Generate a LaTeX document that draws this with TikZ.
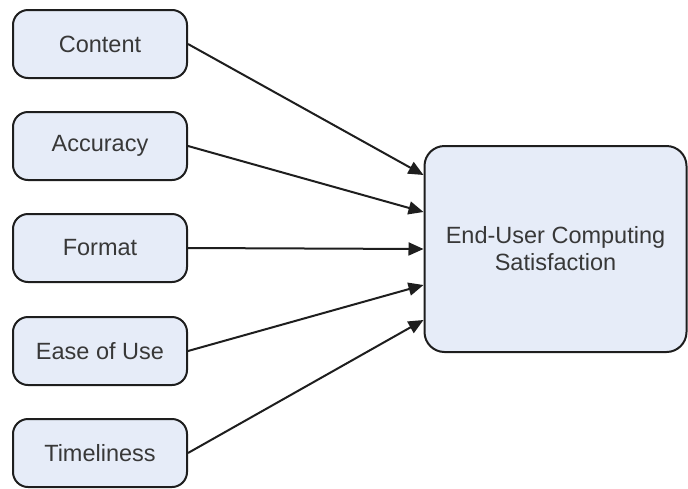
\documentclass[tikz,border=0pt]{standalone}
\usepackage{fontspec}
\setmainfont{Liberation Sans}
\usetikzlibrary{arrows.meta}
\definecolor{boxfill}{HTML}{E6ECF8}
\definecolor{boxline}{HTML}{1E1E1E}
\definecolor{labeltext}{HTML}{383838}
\tikzset{
  factor/.style={draw=boxline, line width=2pt, fill=boxfill, rounded corners=15pt,
    minimum width=174pt, minimum height=68pt, inner sep=0pt,
    text=labeltext, font=\fontsize{23.5}{28}\selectfont},
  outcome/.style={draw=boxline, line width=2pt, fill=boxfill, rounded corners=20pt,
    minimum width=262pt, minimum height=206pt, inner sep=0pt, align=center,
    text=labeltext, font=\fontsize{23.5}{28}\selectfont},
  link/.style={draw=boxline, line width=2pt,
    -{Triangle[length=15pt,width=13pt]}}
}
\begin{document}
\begin{tikzpicture}[x=1pt,y=-1pt]
  \useasboundingbox (0,0) rectangle (688,488);
  % input factors
  \node[factor] (content)  at (100,44)  {Content};
  \node[factor] (accuracy) at (100,146) {Accuracy};
  \node[factor] (format)   at (100,248) {Format};
  \node[factor] (ease)     at (100,351) {Ease of Use};
  \node[factor] (timely)   at (100,453) {Timeliness};
  % outcome
  \node[outcome] (eucs) at (555.5,249) {End-User Computing\\[-1pt]Satisfaction};
  % arrow targets along the left edge of the outcome box
  \path (eucs.west) ++(0,-74) coordinate (t1);
  \path (eucs.west) ++(0,-37) coordinate (t2);
  \path (eucs.west) ++(0,0)   coordinate (t3);
  \path (eucs.west) ++(0,36)  coordinate (t4);
  \path (eucs.west) ++(0,71)  coordinate (t5);
  \draw[link] (content.east)  -- (t1);
  \draw[link] (accuracy.east) -- (t2);
  \draw[link] (format.east)   -- (t3);
  \draw[link] (ease.east)     -- (t4);
  \draw[link] (timely.east)   -- (t5);
\end{tikzpicture}
\end{document}
